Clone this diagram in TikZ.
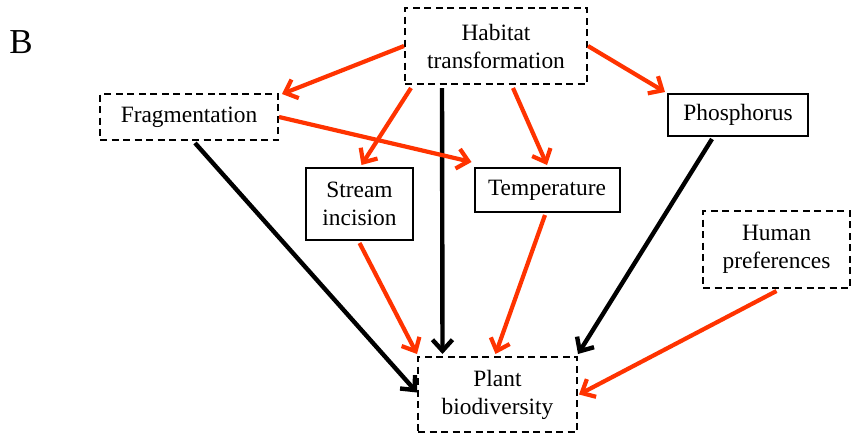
\documentclass[tikz,border=0pt]{standalone}
\usepackage{fontspec}
\setmainfont{Liberation Serif}
\usetikzlibrary{arrows.meta}
\definecolor{arrred}{RGB}{255,51,0}
\tikzset{
  box/.style={draw=black, line width=2pt, align=center, inner sep=0pt, font=\fontsize{23.4}{28}\selectfont},
  dbox/.style={box, dash pattern=on 7pt off 4.5pt},
  redarr/.style={draw=arrred, line width=4.2pt, -{Straight Barb[length=11pt,width=20pt,line width=4.2pt]}},
  blkarr/.style={draw=black, line width=4.4pt, -{Straight Barb[length=11pt,width=20pt,line width=4.4pt]}}
}
\begin{document}
\begin{tikzpicture}[x=1pt,y=-1pt]
\useasboundingbox (0,0) rectangle (851,437);
\node[font=\fontsize{35}{35}\selectfont] (lab) at (21,42) {B};
\node[dbox, minimum width=182pt, minimum height=76pt] (hab) at (496,46) {Habitat\\transformation};
\node[dbox, minimum width=178pt, minimum height=46pt] (frag) at (189,117) {Fragmentation};
\node[box, minimum width=140pt, minimum height=42pt] (phos) at (738,115) {Phosphorus};
\node[box, minimum width=107pt, minimum height=72pt] (stream) at (359.5,204) {Stream\\incision};
\node[box, minimum width=145pt, minimum height=44pt] (temp) at (547,190) {Temperature};
\node[dbox, minimum width=147pt, minimum height=77pt] (human) at (776.5,249.5) {Human\\preferences};
\node[dbox, minimum width=159pt, minimum height=75pt] (plant) at (497.5,394.5) {Plant\\biodiversity};

\draw[redarr] (hab.west) -- ([shift={(3,1)}]frag.north east);
\draw[redarr] (hab.east) -- ([shift={(-2,-1)}]phos.north west);
\draw[redarr] ([shift={(7,3)}]hab.south west) -- ([shift={(2,-2)}]stream.north);
\draw[redarr] ([shift={(17,3)}]hab.south) -- ([shift={(0,-2)}]temp.north);
\draw[blkarr] ([shift={(-54,3)}]hab.south) -- ([shift={(-55,-2)}]plant.north);
\draw[redarr] (frag.east) -- ([shift={(-2,-5)}]temp.north west);
\draw[redarr] ([shift={(0,2)}]stream.south) -- ([shift={(0,-2)}]plant.north west);
\draw[redarr] ([shift={(-2,2)}]temp.south) -- ([shift={(-2,-2)}]plant.north);
\draw[blkarr] ([shift={(6,2)}]frag.south) -- ([shift={(0,-2)}]plant.west);
\draw[blkarr] ([shift={(-26,2)}]phos.south) -- ([shift={(0,-2)}]plant.north east);
\draw[redarr] ([shift={(0,2)}]human.south) -- ([shift={(1,0)}]plant.east);
\end{tikzpicture}
\end{document}
